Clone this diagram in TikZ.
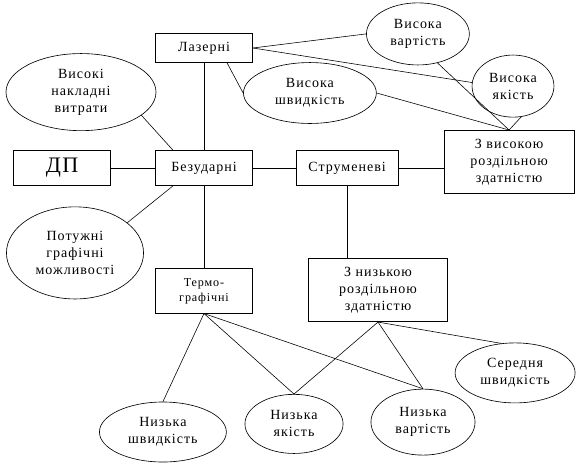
\documentclass[tikz,border=0pt]{standalone}
\usepackage{fontspec}
\setmainfont[LetterSpace=7]{Liberation Serif}
\usetikzlibrary{shapes.geometric}
\begin{document}
\begin{tikzpicture}[
  box/.style={draw,line width=0.9pt,inner sep=0pt,align=center,font=\fontsize{13.3}{16}\selectfont},
  oval/.style={draw,ellipse,line width=0.6pt,inner sep=0pt,align=center,font=\fontsize{13.3}{16}\selectfont},
  link/.style={line width=0.55pt},
  trunk/.style={line width=0.9pt}]
\useasboundingbox(0,0)rectangle(19.4cm,-15.63cm);
% printers
\node[box,minimum width=3.23cm,minimum height=0.97cm](lz)at(6.8cm,-1.6cm){Лазерні};
\node[box,minimum width=3.23cm,minimum height=1.17cm,font=\fontsize{21}{24}\selectfont](dp)at(2.07cm,-5.6cm){ДП};
\node[box,minimum width=3.23cm,minimum height=1.17cm](bz)at(6.8cm,-5.6cm){Безударні};
\node[box,minimum width=3.4cm,minimum height=1.17cm](st)at(11.57cm,-5.6cm){Струменеві};
\node[box,minimum width=4.33cm,minimum height=2.1cm](zv)at(16.97cm,-5.4cm){З високою\\роздільною\\здатністю};
\node[box,minimum width=3.23cm,minimum height=1.47cm,font=\fontsize{11.5}{14}\selectfont](tg)at(6.8cm,-9.7cm){Термо-\\графічні};
\node[box,minimum width=4.63cm,minimum height=2.1cm](zn)at(12.6cm,-9.67cm){З низькою\\роздільною\\здатністю};
% properties
\node[oval,minimum width=5cm,minimum height=2.57cm](vn)at(2.7cm,-3.07cm){Високі\\накладні\\витрати};
\node[oval,minimum width=4.43cm,minimum height=2.03cm](hs)at(10.33cm,-3.1cm){Висока\\швидкість};
\node[oval,minimum width=3.43cm,minimum height=2.07cm](vv)at(13.93cm,-1.13cm){Висока\\вартість};
\node[oval,minimum width=2.73cm,minimum height=2.07cm](vy)at(17.1cm,-2.87cm){Висока\\якість};
\node[oval,minimum width=4.57cm,minimum height=3.07cm](pg)at(2.5cm,-8.43cm){Потужні\\графічні\\можливості};
\node[oval,minimum width=4.23cm,minimum height=2cm](ns)at(5.43cm,-14.4cm){Низька\\швидкість};
\node[oval,minimum width=3.27cm,minimum height=1.97cm](ny)at(9.8cm,-14.13cm){Низька\\якість};
\node[oval,minimum width=3.47cm,minimum height=2.2cm](nv)at(14.1cm,-14.07cm){Низька\\вартість};
\node[oval,minimum width=4cm,minimum height=2cm](sh)at(17.17cm,-12.43cm){Середня\\швидкість};
% main lines
\draw[trunk](dp.east)--(bz.west);
\draw[trunk](bz.east)--(st.west);
\draw[trunk](st.east)--(st.east-|zv.west);
\draw[trunk](lz.south)--(bz.north);
\draw[trunk](bz.south)--(tg.north);
\draw[trunk](st.south)--(st.south|-zn.north);
% links
\draw[link](vn.-21)--(bz.150);
\draw[link](pg.30)--(bz.-150);
\draw[link](lz.east)--(vv.west);
\draw[link](lz.east)--(vy.175);
\draw[link](lz.-33)--(hs.west);
\draw[link](vv.-56)--(zv.north);
\draw[link](hs.east)--(zv.north);
\draw[link](vy.-75)--(zv.north);
\draw[link](tg.south)--(ns.north);
\draw[link](tg.south)--(ny.north);
\draw[link](tg.south)--(nv.north);
\draw[link](zn.south)--(ny.north);
\draw[link](zn.south)--(nv.north);
\draw[link](zn.south)--(sh.115);
\end{tikzpicture}
\end{document}
